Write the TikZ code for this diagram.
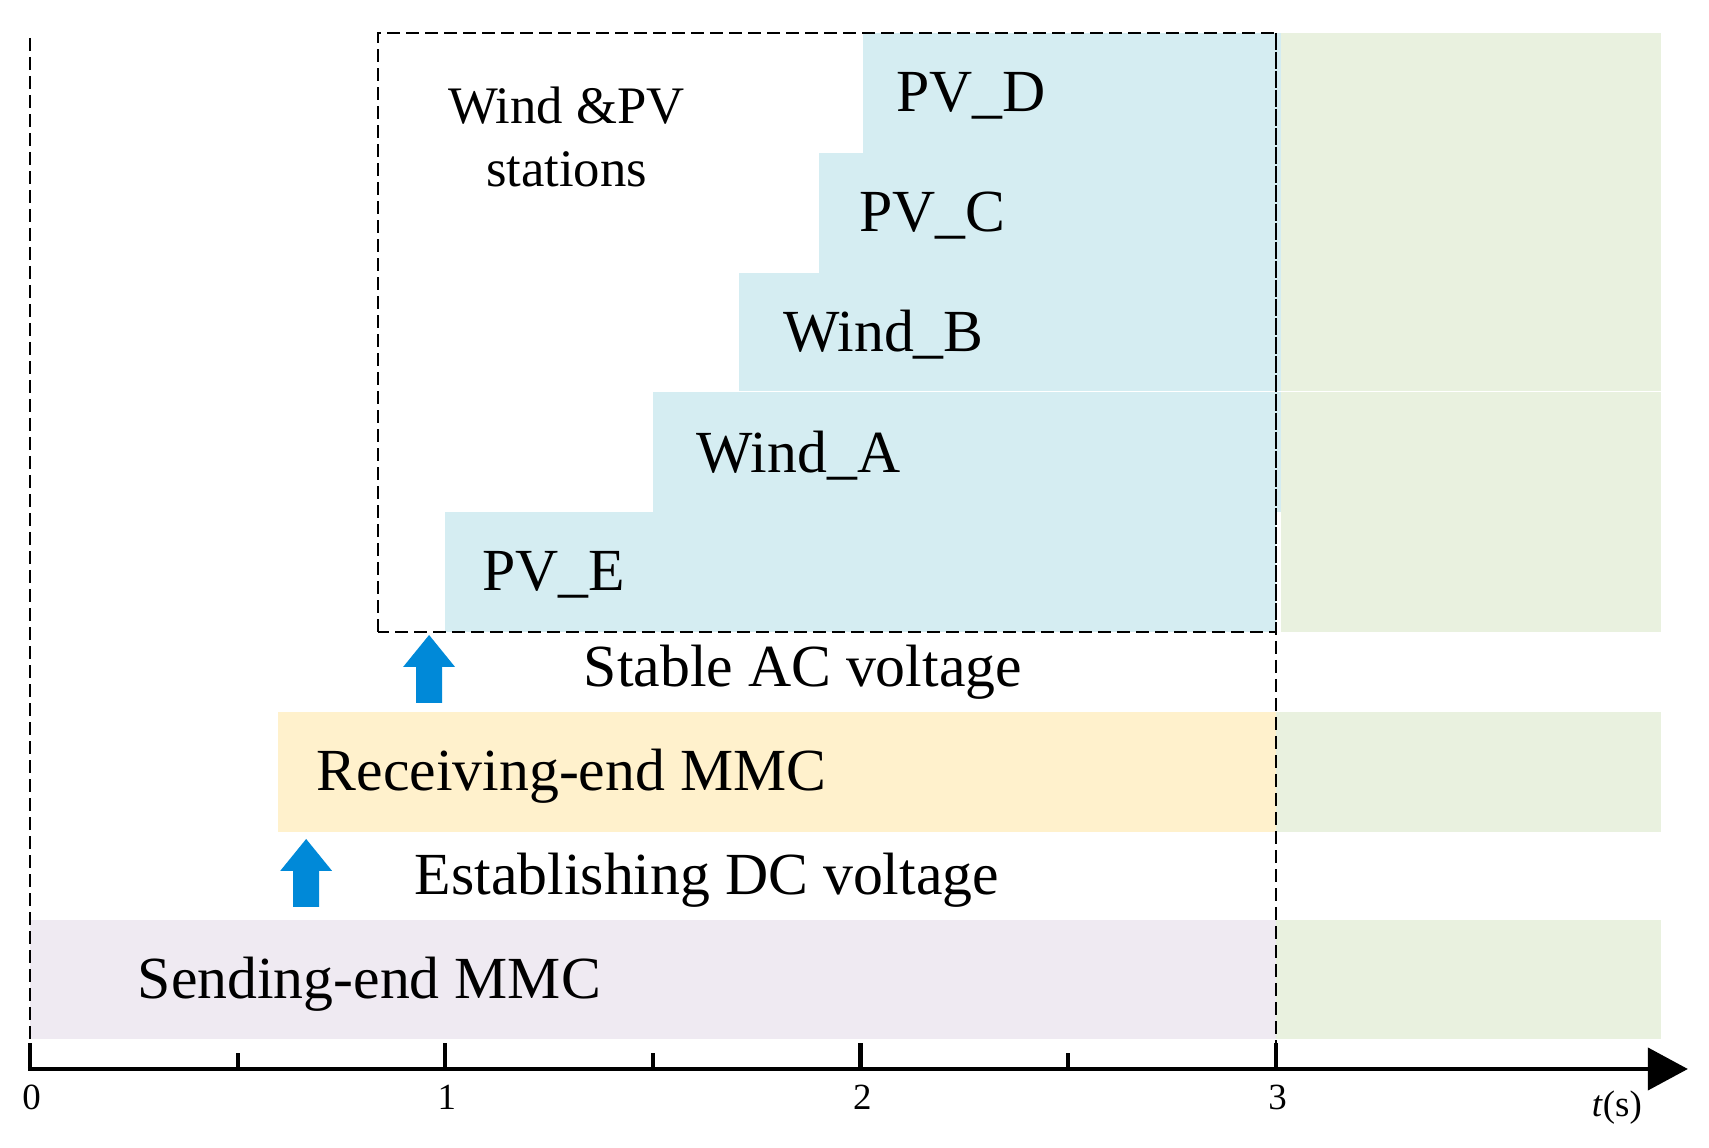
\documentclass[tikz,border=0pt]{standalone}
\usepackage{fontspec}
\setmainfont{Liberation Serif}
\usetikzlibrary{arrows.meta}
\definecolor{pvblue}{HTML}{D5EDF2}
\definecolor{gridgreen}{HTML}{E9F1DF}
\definecolor{recvyellow}{HTML}{FFF1CC}
\definecolor{sendpurple}{HTML}{EFEAF2}
\definecolor{arrowblue}{HTML}{0089D8}
\tikzset{
	dashline/.style={line width=0.7pt, dash pattern=on 0.13cm off 0.06cm},
	bandlabel/.style={anchor=base west, inner sep=0pt, font=\fontsize{17}{20}\selectfont},
	ticklabel/.style={anchor=base, inner sep=0pt, font=\fontsize{10.5}{12}\selectfont}
}
\def\blockarrow(#1,#2){\fill[arrowblue] (#1,#2) ++(-0.13cm,0) -- ++(0.26cm,0) -- ++(0,0.36) -- ++(0.13cm,0) -- ++(-0.26cm,0.32) -- ++(-0.26cm,-0.32) -- ++(0.13cm,0) -- cycle;}

\begin{document}
\begin{tikzpicture}[x=4.153cm, y=1cm]
			%%%%% START %%%%%
			\useasboundingbox (-0.0722, -0.79) rectangle (4.043, 10.69);
			
			% stations
			\fill[pvblue] (1.0, 4.37) rectangle (3.0, 5.57);
			\fill[pvblue] (1.5, 5.57) rectangle (3.012, 6.765);
			\fill[pvblue] (1.707, 6.775) rectangle (3.012, 7.96);
			\fill[pvblue] (1.9, 7.96) rectangle (3.012, 9.16);
			\fill[pvblue] (2.006, 9.16) rectangle (3.012, 10.36);
			
			% after 3 s
			\fill[gridgreen] (3.012, 6.775) rectangle (3.928, 10.36);
			\fill[gridgreen] (3.012, 4.37) rectangle (3.928, 6.765);
			\fill[gridgreen] (3.0, 2.37) rectangle (3.928, 3.57);
			\fill[gridgreen] (3.0, 0.30) rectangle (3.928, 1.49);
			
			% converters
			\fill[recvyellow] (0.597, 2.37) rectangle (3.0, 3.57);
			\fill[sendpurple] (0, 0.30) rectangle (3.0, 1.49);
			
			\draw[dashline] (0.838, 4.37) rectangle (3.0, 10.36);
			\draw[dashline] (3.0, 10.36) -- (3.0, 0.26);
			\draw[dashline] (0, 10.31) -- (0, 0.26);
			
			% time axis
			\draw[line width=1.2pt, -{Triangle[length=0.4cm, width=0.42cm]}] (-0.005, 0) -- (3.992, 0);
			\foreach \t in {0,1,2,3}{
				\draw[line width=1.2pt] (\t, 0) -- (\t, 0.26);
				\node[ticklabel] (tick\t) at (\t+0.004, -0.41) {\t};
			}
			\foreach \t in {0.5,1.5,2.5}
				\draw[line width=1.2pt] (\t, 0) -- (\t, 0.16);
			\node[ticklabel] (tlabel) at (3.821, -0.48) {\textit{t}(s)};
			
			\node[bandlabel, anchor=base, font=\fontsize{15}{18}\selectfont] (wpv) at (1.292, 9.45) {Wind \&PV};
			\node[bandlabel, anchor=base, font=\fontsize{15}{18}\selectfont] (stations) at (1.292, 8.82) {stations};
			\node[bandlabel] (pvd) at (2.085, 9.57) {PV\_D};
			\node[bandlabel] (pvc) at (1.996, 8.37) {PV\_C};
			\node[bandlabel] (windb) at (1.813, 7.17) {Wind\_B};
			\node[bandlabel] (winda) at (1.604, 5.96) {Wind\_A};
			\node[bandlabel] (pve) at (1.088, 4.78) {PV\_E};
			\node[bandlabel] (stableac) at (1.332, 3.82) {Stable AC voltage};
			\node[bandlabel] (recv) at (0.689, 2.78) {Receiving-end MMC};
			\node[bandlabel] (estdc) at (0.925, 1.74) {Establishing DC voltage};
			\node[bandlabel] (send) at (0.258, 0.70) {Sending-end MMC};
			
			\blockarrow(0.961, 3.66)
			\blockarrow(0.665, 1.62)
			%%%%% END %%%%%
\end{tikzpicture}
\end{document}
